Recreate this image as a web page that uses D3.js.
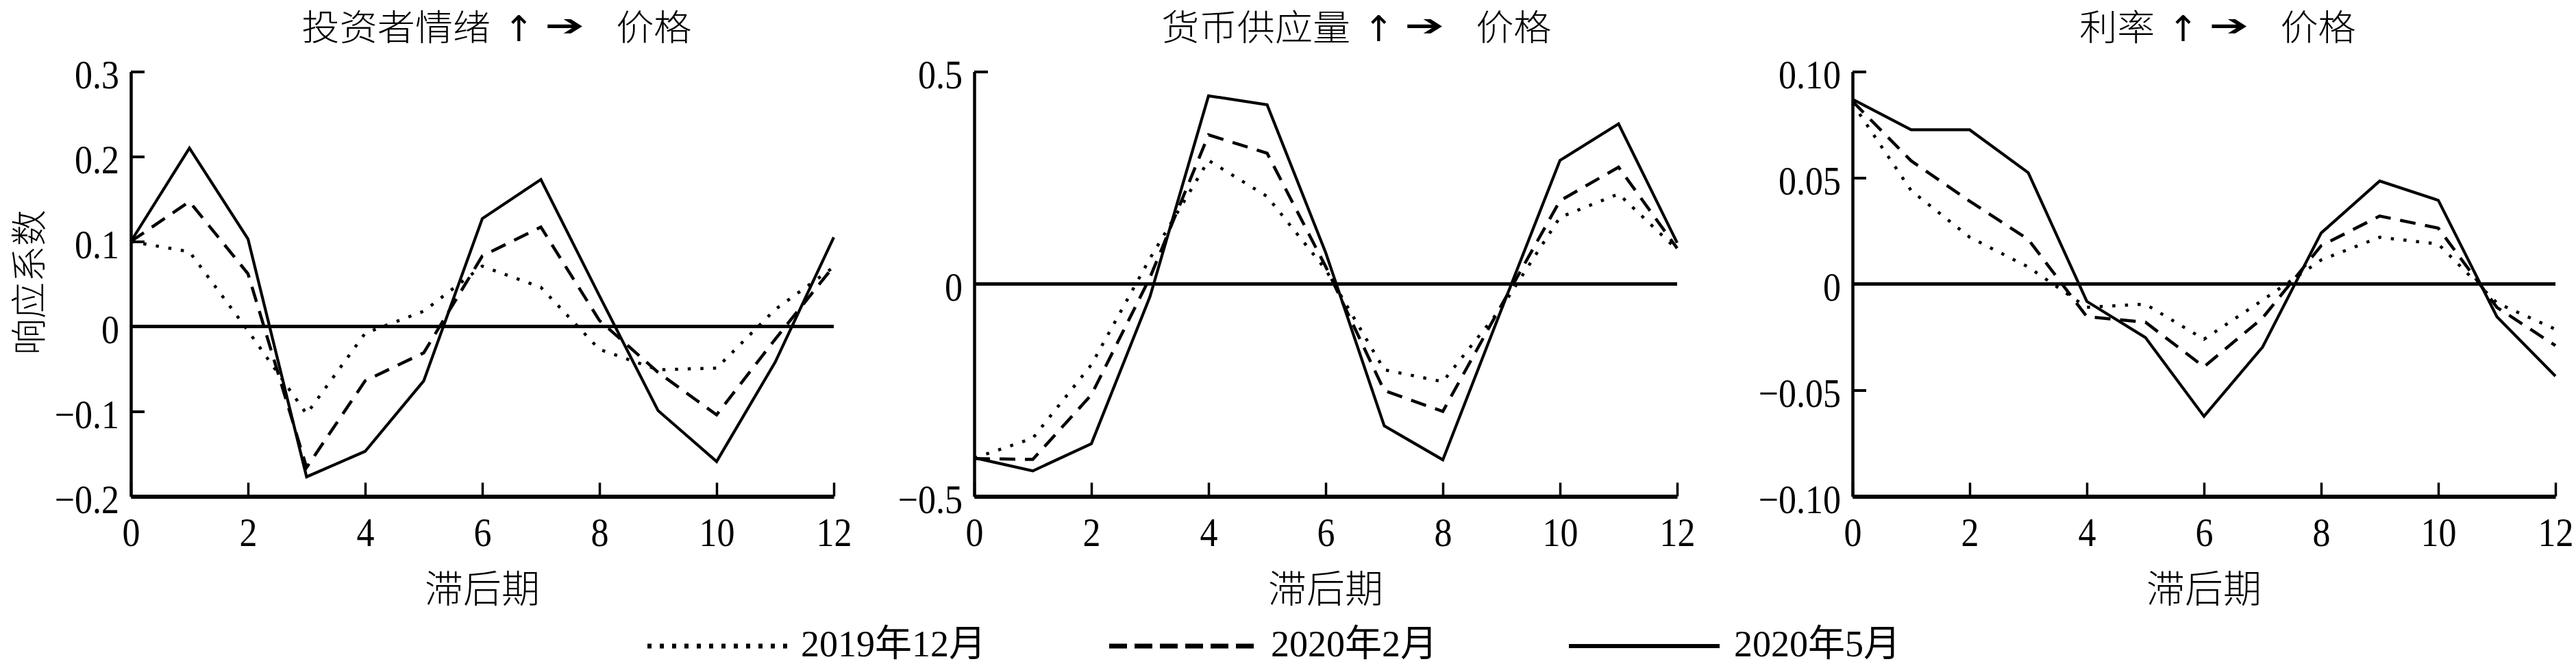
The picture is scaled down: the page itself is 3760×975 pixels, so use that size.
<!DOCTYPE html>
<html><head><meta charset="utf-8">
<script src="https://cdn.jsdelivr.net/npm/d3@7"></script>
<style>body{margin:0;background:#fff}svg{display:block}</style>
</head><body>
<svg id="c" width="3760" height="975"></svg>
<script>
// ---------- data ----------
const lags = [0,1,2,3,4,5,6,7,8,9,10,11,12];
const xTickValues = [0,2,4,6,8,10,12];
const seriesNames = ["2019年12月","2020年2月","2020年5月"];
const panelShocks = ["投资者情绪","货币供应量","利率"];
const responseName = "价格";
const xAxisTitle = "滞后期";
const yAxisTitle = "响应系数";

const sentDec19 = [0.100, 0.088, -0.005, -0.103, -0.008, 0.018, 0.071, 0.046, -0.027, -0.051, -0.049, 0.020, 0.070];
const sentFeb20 = [0.100, 0.147, 0.062, -0.166, -0.064, -0.031, 0.083, 0.117, 0.007, -0.054, -0.104, -0.015, 0.071];
const sentMay20 = [0.100, 0.210, 0.103, -0.177, -0.147, -0.064, 0.127, 0.173, 0.036, -0.099, -0.159, -0.042, 0.105];

const moneyDec19 = [-0.410, -0.363, -0.190, 0.060, 0.291, 0.206, 0.034, -0.202, -0.230, -0.056, 0.157, 0.212, 0.081];
const moneyFeb20 = [-0.411, -0.413, -0.261, 0.015, 0.351, 0.308, 0.041, -0.251, -0.300, -0.050, 0.196, 0.275, 0.084];
const moneyMay20 = [-0.409, -0.440, -0.376, -0.030, 0.443, 0.422, 0.074, -0.334, -0.414, -0.060, 0.291, 0.377, 0.097];

const rateDec19 = [0.085, 0.044, 0.022, 0.008, -0.011, -0.0095, -0.026, -0.0076, 0.0113, 0.022, 0.0188, -0.0089, -0.0213];
const rateFeb20 = [0.086, 0.058, 0.039, 0.021, -0.0154, -0.018, -0.039, -0.016, 0.018, 0.032, 0.0263, -0.011, -0.029];
const rateMay20 = [0.087, 0.0726, 0.0726, 0.0524, -0.0082, -0.0252, -0.0623, -0.0297, 0.024, 0.0485, 0.0394, -0.0154, -0.0434];

const yTicksSent = [-0.2, -0.1, 0, 0.1, 0.2, 0.3];
const yTicksMoney = [-0.5, 0, 0.5];
const yTicksRate = [-0.10, -0.05, 0, 0.05, 0.10];

// ---------- layout ----------
const svg = d3.select("#c");
const digitFont = "'Liberation Serif','Times New Roman','Noto Sans CJK SC',serif";
const cjkFont = "'Noto Sans CJK SC','Noto Sans CJK JP',sans-serif";
const SY = 1.15; // vertical stretch of the serif digits
const plotTop = 104.5, plotBottom = 724.5, plotW = 1026;
const lefts = [191, 1422, 2704];
const titleShift = [21, 45, 20];

const panels = [
  {shock: panelShocks[0], series: [sentDec19, sentFeb20, sentMay20], ticks: yTicksSent, fmt: d3.format(".1f")},
  {shock: panelShocks[1], series: [moneyDec19, moneyFeb20, moneyMay20], ticks: yTicksMoney, fmt: d3.format(".1f")},
  {shock: panelShocks[2], series: [rateDec19, rateFeb20, rateMay20], ticks: yTicksRate, fmt: d3.format(".2f")}
];
const styles = [
  {dash: "4.5,14", width: 4.5, cap: "butt"},
  {dash: "23,14", width: 4.5, cap: "butt"},
  {dash: null, width: 4.2, cap: "butt"}
];
const tickFmt = f => d => (Math.abs(d) < 1e-12 ? "0" : f(d));

panels.forEach((p, i) => {
  const x = d3.scaleLinear().domain([lags[0], lags[lags.length-1]]).range([lefts[i], lefts[i] + plotW]);
  const y = d3.scaleLinear().domain(d3.extent(p.ticks)).range([plotBottom, plotTop]);
  const g = svg.append("g");

  // zero line
  g.append("line").attr("x1", x(0)).attr("x2", x(12)).attr("y1", y(0)).attr("y2", y(0))
    .attr("stroke", "#000").attr("stroke-width", 5);

  // series
  const line = d3.line().x((d, k) => x(lags[k])).y(d => y(d));
  p.series.forEach((s, k) => {
    const st = styles[k];
    g.append("path").datum(s).attr("d", line).attr("fill", "none").attr("stroke", "#000")
      .attr("stroke-width", st.width).attr("stroke-linejoin", "miter").attr("stroke-miterlimit", 10)
      .attr("stroke-linecap", st.cap).attr("stroke-dasharray", st.dash);
  });

  // y axis
  const ya = g.append("g").attr("transform", `translate(${x(0)},0)`)
    .call(d3.axisLeft(y).tickValues(p.ticks).tickFormat(tickFmt(p.fmt)).tickSizeInner(-20).tickSizeOuter(0).tickPadding(17));
  ya.select(".domain").attr("stroke-width", 4.5);
  ya.selectAll(".tick line").attr("stroke-width", 4);
  ya.selectAll(".tick text").attr("x", null).attr("y", null).attr("dy", null)
    .attr("transform", `translate(-17,24) scale(1,${SY})`)
    .style("font-family", digitFont).style("font-size", "52px").attr("fill", "#000");

  // x axis
  const xa = g.append("g").attr("transform", `translate(0,${plotBottom})`)
    .call(d3.axisBottom(x).tickValues(xTickValues).tickFormat(d3.format("d")).tickSizeInner(-20).tickSizeOuter(0));
  xa.select(".domain").attr("stroke-width", 6);
  xa.selectAll(".tick line").attr("stroke-width", 3.5);
  xa.selectAll(".tick text").attr("x", null).attr("y", null).attr("dy", null)
    .attr("transform", `translate(0,72) scale(1,${SY})`)
    .style("font-family", digitFont).style("font-size", "52px").attr("fill", "#000");

  // x axis title
  g.append("text").attr("x", (x(0) + x(12)) / 2).attr("y", 879).attr("text-anchor", "middle")
    .style("font-family", cjkFont).style("font-size", "56px").style("font-weight", 300).text(xAxisTitle);

  // panel title: shock ↑ → response
  const t = g.append("g");
  const t1 = t.append("text").attr("x", 0).attr("y", 59).style("font-family", cjkFont)
    .style("font-size", "52px").style("font-weight", 300).text(p.shock);
  const L = t1.node().getComputedTextLength() * 1.06;
  t1.attr("textLength", L).attr("lengthAdjust", "spacingAndGlyphs");
  t.append("text").attr("x", L + 41).attr("y", 60).attr("text-anchor", "middle")
    .style("font-family", "'DejaVu Sans',sans-serif").style("font-size", "52px").text("↑");
  t.append("text").attr("x", L + 79).attr("y", 52).attr("textLength", 58).attr("lengthAdjust", "spacingAndGlyphs")
    .style("font-family", "'DejaVu Sans',sans-serif").style("font-size", "44px").text("➔");
  const t4 = t.append("text").attr("x", L + 183).attr("y", 59).style("font-family", cjkFont)
    .style("font-size", "52px").style("font-weight", 300).text(responseName);
  const L4 = t4.node().getComputedTextLength() * 1.06;
  t4.attr("textLength", L4).attr("lengthAdjust", "spacingAndGlyphs");
  const total = L + 183 + L4;
  const cx = (x(0) + x(12)) / 2 + titleShift[i];
  t.attr("transform", `translate(${cx - total / 2},0)`);
});

// y axis title (shared, left)
svg.append("text").attr("transform", "translate(62,412) rotate(-90)").attr("text-anchor", "middle")
  .style("font-family", cjkFont).style("font-size", "53px").style("font-weight", 300).text(yAxisTitle);

// legend
const legendLines = [[945, 1161], [1619, 1830], [2290, 2510]];
const legendTextX = [1169, 1855, 2531];
const legendStyles = [
  {dash: "6,12", width: 7},
  {dash: "26,11", width: 7},
  {dash: null, width: 6}
];
seriesNames.forEach((name, k) => {
  svg.append("line").attr("x1", legendLines[k][0]).attr("x2", legendLines[k][1]).attr("y1", 943).attr("y2", 943)
    .attr("stroke", "#000").attr("stroke-width", legendStyles[k].width).attr("stroke-dasharray", legendStyles[k].dash);
  svg.append("text").attr("x", legendTextX[k]).attr("y", 958)
    .style("font-family", digitFont).style("font-size", "54px").text(name);
});
</script>
</body></html>
